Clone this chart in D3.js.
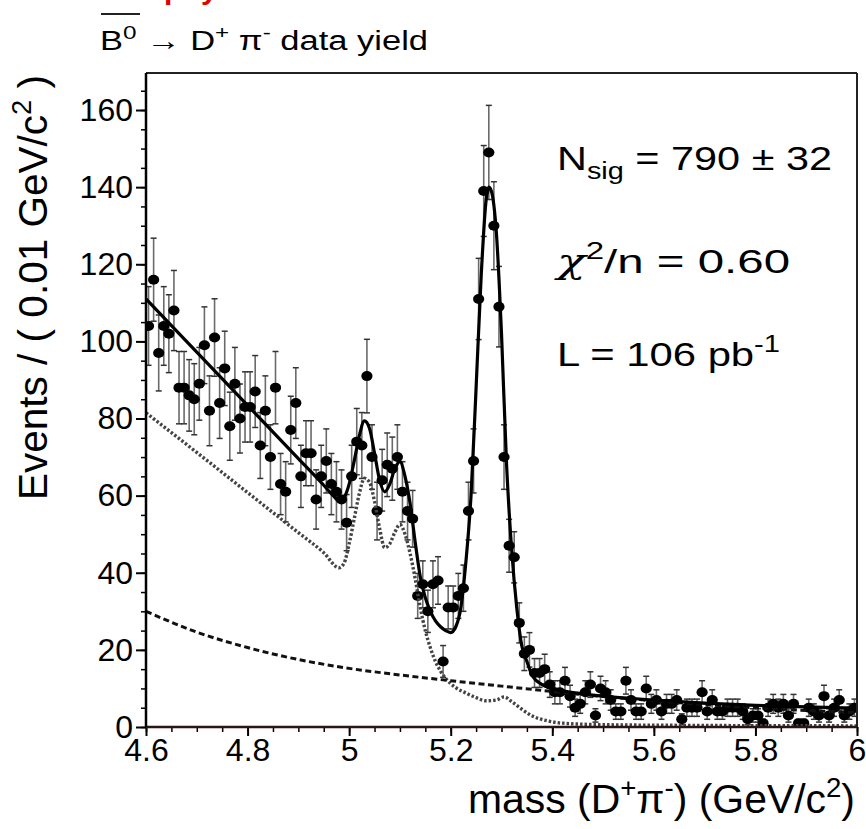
<!DOCTYPE html>
<html>
<head>
<meta charset="utf-8">
<script src="https://cdn.jsdelivr.net/npm/d3@7"></script>
<style>
body { margin: 0; background: #fff; }
text { font-family: "Liberation Sans", Arial, Helvetica, sans-serif; fill: #000; }
</style>
</head>
<body>
<svg id="chart" width="866" height="829"></svg>
<script>
// bins of 0.01 GeV/c^2 from 4.6 to 6.0
const massLow = 4.6;
const binWidth = 0.01;
const counts = [
  104,116,97,104,102,108,88,88,86,85,
  89,99,82,101,84,93,78,89,80,83,
  83,87,73,82,70,88,63,61,77,84,
  65,71,71,59,65,69,63,61,59,53,
  65,74,73,91,70,56,64,68,67,70,
  61,56,54,34,37,30,37,38,17,31,
  31,34,36,56,69,
  111,139,149,130,109,70,47,44,27,19,20,
  14,14,15,11,9,9,12,8,5,6,9,11,3,10,
  9,7,4,4,12,7,4,4,10,6,7,4,6,6,7,2,5,5,5,9,
  4,7,4,4,5,5,5,4,2,3,3,1,5,6,5,6,3,6,1,1,
  5,4,3,8,3,5,7,3,4,5
];

// fit curves: [mass, events]
const fitTotal = [[4.60,111],[4.70,97.2],[4.80,83.4],[4.90,69.6],[4.95,62.7],[4.97,59.8],[4.98,58.6],
  [4.99,59.5],[5.00,63],[5.01,69],[5.02,75.5],[5.03,79.4],[5.04,77.5],[5.05,71],[5.06,64],[5.07,61],
  [5.08,63],[5.09,67],[5.10,68.8],[5.11,65],[5.12,58],[5.13,48],[5.14,39],[5.15,33.5],[5.16,30],
  [5.17,27.5],[5.18,26],[5.19,25],[5.20,24.5],[5.21,26],[5.22,31],[5.23,43],[5.24,60],[5.25,88],
  [5.26,117],[5.27,137],[5.275,140],[5.28,139],[5.29,128],[5.30,102],[5.31,68],[5.32,46],[5.33,31],
  [5.34,21],[5.35,17],[5.36,13.5],[5.38,11],[5.40,10],[5.45,8.8],[5.50,8],[5.60,7],[5.70,6.2],
  [5.80,5.6],[5.90,5.2],[6.00,4.9]];
const bkgPeaking = [[4.60,81.5],[4.70,71.2],[4.80,60.8],[4.90,50.4],[4.95,45.2],[4.98,41.3],[4.99,42.5],
  [5.00,47.5],[5.01,54],[5.02,60.5],[5.03,64.5],[5.04,63.5],[5.05,58.5],[5.06,51.5],[5.07,46.5],
  [5.08,47.5],[5.09,50.5],[5.10,52.5],[5.11,50],[5.12,45],[5.13,38.5],[5.14,31],[5.15,25],[5.16,20.5],
  [5.17,17],[5.18,14.5],[5.19,12.6],[5.21,10.2],[5.23,8.8],[5.25,7.6],[5.27,6.8],[5.29,7.0],[5.305,7.8],
  [5.32,6.6],[5.34,4.6],[5.36,2.9],[5.39,1.6],[5.42,1.0],[5.50,0.6],[5.70,0.4],[6.00,0.3]];
const bkgComb = [[4.60,30],[4.70,24.6],[4.80,20.6],[4.90,17.5],[5.00,15.2],[5.10,13.5],[5.20,12],
  [5.30,10.6],[5.40,9.2],[5.50,7.9],[5.60,6.8],[5.70,5.8],[5.80,5],[5.90,4.3],[6.00,3.7]];

const xTicks = [4.6, 4.8, 5, 5.2, 5.4, 5.6, 5.8, 6];
const yTicks = [0, 20, 40, 60, 80, 100, 120, 140, 160];

let plotLeft = 146, plotTop = 73, plotRight = 857, plotBottom = 727;
let width = plotRight - plotLeft, height = plotBottom - plotTop;

let svg = d3.select("#chart");
let g = svg.append("g").attr("transform", "translate(" + plotLeft + "," + plotTop + ")");

let x = d3.scaleLinear().domain([4.6, 6.0]).range([0, width]);
let y = d3.scaleLinear().domain([0, 169.6]).range([height, 0]);

g.append("clipPath").attr("id", "plotclip")
  .append("rect").attr("x", 0).attr("y", 0).attr("width", width).attr("height", height);

// minor ticks
g.append("g")
  .attr("transform", "translate(0," + height + ")")
  .call(d3.axisBottom(x).tickValues(d3.range(0, 29).map(i => 4.6 + i * 0.05)).tickSize(5).tickFormat(""))
  .call(a => a.select(".domain").remove())
  .call(a => a.selectAll("line").attr("stroke", "#000").attr("stroke-width", 1.5));
g.append("g")
  .call(d3.axisLeft(y).tickValues(d3.range(0, 170, 5)).tickSize(5).tickFormat(""))
  .call(a => a.select(".domain").remove())
  .call(a => a.selectAll("line").attr("stroke", "#000").attr("stroke-width", 1.5));

// major ticks + labels
g.append("g")
  .attr("transform", "translate(0," + height + ")")
  .call(d3.axisBottom(x).tickValues(xTicks).tickSize(9).tickPadding(2).tickFormat(d => String(d)))
  .call(a => a.select(".domain").remove())
  .call(a => a.selectAll("line").attr("stroke", "#000").attr("stroke-width", 2))
  .call(a => a.selectAll("text").attr("font-size", 32).attr("font-family", "Liberation Sans, Arial, sans-serif"));
g.append("g")
  .call(d3.axisLeft(y).tickValues(yTicks).tickSize(10).tickPadding(3).tickFormat(d3.format("d")))
  .call(a => a.select(".domain").remove())
  .call(a => a.selectAll("line").attr("stroke", "#000").attr("stroke-width", 2))
  .call(a => a.selectAll("text").attr("font-size", 32).attr("font-family", "Liberation Sans, Arial, sans-serif"));

// data with sqrt(N) errors
let data = counts.map((c, i) => ({ m: massLow + (i + 0.5) * binWidth, n: c, e: Math.sqrt(c) }));

let pts = g.append("g").attr("clip-path", "url(#plotclip)");
pts.selectAll(".err").data(data).enter().append("line")
  .attr("x1", d => x(d.m)).attr("x2", d => x(d.m))
  .attr("y1", d => y(d.n - d.e)).attr("y2", d => y(d.n + d.e))
  .attr("stroke", "#6a6a6a").attr("stroke-width", 1.6);
pts.selectAll(".capT").data(data).enter().append("line")
  .attr("x1", d => x(d.m) - 3).attr("x2", d => x(d.m) + 3)
  .attr("y1", d => y(d.n + d.e)).attr("y2", d => y(d.n + d.e))
  .attr("stroke", "#333").attr("stroke-width", 1.5);
pts.selectAll(".capB").data(data).enter().append("line")
  .attr("x1", d => x(d.m) - 3).attr("x2", d => x(d.m) + 3)
  .attr("y1", d => y(d.n - d.e)).attr("y2", d => y(d.n - d.e))
  .attr("stroke", "#333").attr("stroke-width", 1.5);
pts.selectAll(".dot").data(data).enter().append("ellipse")
  .attr("cx", d => x(d.m)).attr("cy", d => y(d.n))
  .attr("rx", 5.6).attr("ry", 5)
  .attr("fill", "#000");

// fit curves
let line = d3.line().x(d => x(d[0])).y(d => y(d[1])).curve(d3.curveMonotoneX);
let curves = g.append("g").attr("clip-path", "url(#plotclip)");
curves.append("path").datum(bkgPeaking).attr("d", line)
  .attr("fill", "none").attr("stroke", "#444").attr("stroke-width", 3.4).attr("stroke-dasharray", "2.5,2");
curves.append("path").datum(bkgComb).attr("d", line)
  .attr("fill", "none").attr("stroke", "#111").attr("stroke-width", 3).attr("stroke-dasharray", "6,3.5");
curves.append("path").datum(fitTotal).attr("d", line)
  .attr("fill", "none").attr("stroke", "#000").attr("stroke-width", 3.2);

// frame
g.append("line").attr("x1", 0).attr("x2", width).attr("y1", 0).attr("y2", 0).attr("stroke", "#222").attr("stroke-width", 2);
g.append("line").attr("x1", width).attr("x2", width).attr("y1", 0).attr("y2", height).attr("stroke", "#222").attr("stroke-width", 2);
g.append("line").attr("x1", 0).attr("x2", width).attr("y1", height).attr("y2", height).attr("stroke", "#2a1414").attr("stroke-width", 2.5);
g.append("line").attr("x1", 0).attr("x2", 0).attr("y1", 0).attr("y2", height).attr("stroke", "#000").attr("stroke-width", 2.5);

// axis titles
let yt = svg.append("text")
  .attr("transform", "translate(47,500)rotate(-90)")
  .attr("font-size", 40).attr("textLength", 425).attr("lengthAdjust", "spacingAndGlyphs");
yt.append("tspan").text("Events / ( 0.01 GeV/c");
yt.append("tspan").attr("font-size", 27).attr("dy", -16).text("2");
yt.append("tspan").attr("dy", 16).text(" )");

let xt = svg.append("text").attr("x", 855).attr("y", 813).attr("text-anchor", "end").attr("font-size", 40)
  .attr("textLength", 387).attr("lengthAdjust", "spacingAndGlyphs");
xt.append("tspan").text("mass (D");
xt.append("tspan").attr("font-size", 27).attr("dy", -16).text("+");
xt.append("tspan").attr("dy", 16).text("π");
xt.append("tspan").attr("font-size", 27).attr("dy", -16).text("-");
xt.append("tspan").attr("dy", 16).text(") (GeV/c");
xt.append("tspan").attr("font-size", 27).attr("dy", -16).text("2");
xt.append("tspan").attr("dy", 16).text(")");

// title (top line is cut off at the page edge in the reference)
svg.append("text").attr("x", 164).attr("y", -1).attr("font-size", 30).attr("font-weight", "bold")
  .style("fill", "#e00000").text("p");
svg.append("text").attr("x", 201).attr("y", -1).attr("font-size", 30).attr("font-weight", "bold")
  .style("fill", "#e00000").text("y");

svg.append("line").attr("x1", 101).attr("x2", 140).attr("y1", 14).attr("y2", 14).attr("stroke", "#222").attr("stroke-width", 2);
let tt = svg.append("text").attr("x", 100).attr("y", 50).attr("font-size", 27)
  .attr("textLength", 328).attr("lengthAdjust", "spacingAndGlyphs");
tt.append("tspan").text("B");
tt.append("tspan").attr("font-size", 19).attr("dy", -11).text("0");
tt.append("tspan").attr("dy", 11).text(" \u2192 D");
tt.append("tspan").attr("font-size", 19).attr("dy", -11).text("+");
tt.append("tspan").attr("dy", 11).text(" \u03c0");
tt.append("tspan").attr("font-size", 19).attr("dy", -11).text("-");
tt.append("tspan").attr("dy", 11).text(" data yield");

// fit results
let a1 = svg.append("text").attr("x", 557).attr("y", 170).attr("font-size", 33)
  .attr("textLength", 275).attr("lengthAdjust", "spacingAndGlyphs");
a1.append("tspan").text("N");
a1.append("tspan").attr("font-size", 23).attr("dy", 9).text("sig");
a1.append("tspan").attr("dy", -9).text(" = 790 \u00b1 32");

let a2 = svg.append("text").attr("x", 557).attr("y", 273).attr("font-size", 33)
  .attr("textLength", 233).attr("lengthAdjust", "spacingAndGlyphs");
a2.append("tspan").attr("font-family", "DejaVu Serif").attr("font-style", "italic").text("\u03c7");
a2.append("tspan").attr("font-size", 23).attr("dy", -14).text("2");
a2.append("tspan").attr("dy", 14).text("/n = 0.60");

let a3 = svg.append("text").attr("x", 557).attr("y", 366).attr("font-size", 33)
  .attr("textLength", 223).attr("lengthAdjust", "spacingAndGlyphs");
a3.append("tspan").text("L = 106 pb");
a3.append("tspan").attr("font-size", 23).attr("dy", -14).text("-1");
</script>
</body>
</html>
